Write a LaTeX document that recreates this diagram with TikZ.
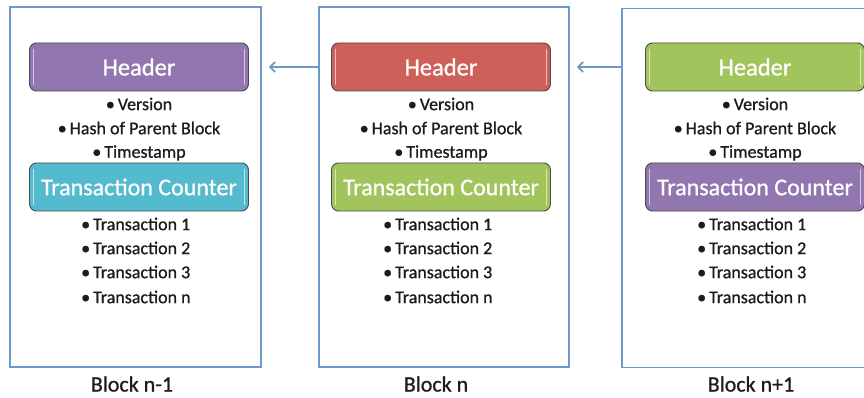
\documentclass[tikz,border=0pt]{standalone}
\usepackage{fontspec}
\setmainfont{Carlito}[RawFeature={embolden=0.8}]
\usetikzlibrary{arrows.meta,calc}
\definecolor{frameblue}{RGB}{108,152,202}
\definecolor{hpurple}{RGB}{146,118,176}
\definecolor{hred}{RGB}{206,96,90}
\definecolor{hgreen}{RGB}{162,196,92}
\definecolor{hcyan}{RGB}{84,186,206}
\definecolor{txt}{RGB}{30,28,26}
\tikzset{
  blockframe/.style={draw=frameblue, line width=1.8pt, inner sep=0pt},
  pill/.style={draw={rgb,255:red,75;green,75;blue,75}, line width=0.9pt, rounded corners=7pt,
     minimum width=219pt, minimum height=48pt, inner sep=0pt, text=white},
  hfont/.style={font=\fontsize{24.5}{26}\selectfont},
  cfont/.style={font=\fontsize{24}{26}\selectfont},
  item/.style={text=txt, font=\fontsize{18}{19}\selectfont, inner sep=0pt},
  blabel/.style={text=txt, font=\fontsize{22}{23}\selectfont, inner sep=0pt},
  link/.style={draw=frameblue, line width=1.8pt, -{Straight Barb[length=5pt,width=10pt,line width=1.8pt]}, shorten >=7pt},
}
\newcommand{\hilite}[2]{%
  \draw[white!60!#2, line width=1.6pt] ($(#1.north west)+(4.5pt,-6pt)$) -- ($(#1.south west)+(4.5pt,6pt)$);
  \draw[white!60!#2, line width=1.6pt] ($(#1.north east)+(-4.5pt,-6pt)$) -- ($(#1.south east)+(-4.5pt,6pt)$);
}
\newcommand{\blockcontent}[5]{% #1 prefix, #2 center x, #3 header color, #4 counter color, #5 bullet x
  \node[pill, hfont, fill=#3] (#1h) at (#2pt,-67pt) {Header};
  \hilite{#1h}{#3}
  \node[item] (#1v) at (#2pt,-104pt) {•\,Version};
  \node[item] (#1p) at (#2pt,-128pt) {•\,Hash of Parent Block};
  \node[item] (#1s) at (#2pt,-153pt) {•\,Timestamp};
  \node[pill, cfont, fill=#4] (#1c) at (#2pt,-187pt) {Transaction Counter};
  \hilite{#1c}{#4}
  \node[item, anchor=west] (#1t1) at (#5pt,-224pt) {•\,Transaction 1};
  \node[item, anchor=west] (#1t2) at (#5pt,-248pt) {•\,Transaction 2};
  \node[item, anchor=west] (#1t3) at (#5pt,-272pt) {•\,Transaction 3};
  \node[item, anchor=west] (#1tn) at (#5pt,-297pt) {•\,Transaction n};
}
\begin{document}
\begin{tikzpicture}[x=1pt,y=1pt]
\useasboundingbox (0,0) rectangle (864,-398);
\clip (0,0) rectangle (864,-398);
\fill[white] (0,0) rectangle (864,-398);
% frames
\node[blockframe, minimum width=251pt, minimum height=360pt] (bL) at (135.5,-187) {};
\node[blockframe, minimum width=250pt, minimum height=360pt] (bM) at (444,-187) {};
\node[blockframe, minimum width=262pt, minimum height=359pt] (bR) at (753,-188) {};
% contents
\blockcontent{L}{139}{hpurple}{hcyan}{81}
\blockcontent{M}{441}{hred}{hgreen}{383}
\blockcontent{R}{755}{hgreen}{hpurple}{697}
% links
\draw[link] (bM.west |- Mh.center) -- (bL.east |- Mh.center);
\draw[link] (bR.west |- Rh.center) -- (bM.east |- Rh.center);
% labels
\node[blabel] (lL) at (132,-384) {Block n-1};
\node[blabel] (lM) at (436,-384) {Block n};
\node[blabel] (lR) at (751,-384) {Block n+1};
\end{tikzpicture}
\end{document}
